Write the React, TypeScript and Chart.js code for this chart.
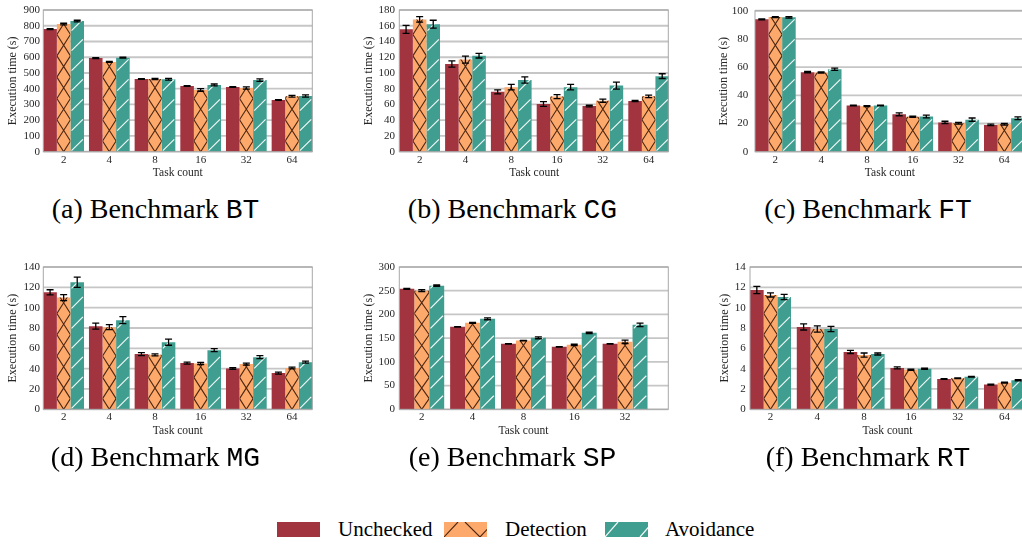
import React, { useEffect, useRef } from 'react';
import { Chart, registerables } from 'chart.js';

Chart.register(...registerables);

// ---------- data ----------
const TASKS = ['2', '4', '8', '16', '32', '64'];
const TASKS_SP = ['2', '4', '8', '16', '32'];
const SERIES = ['Unchecked', 'Detection', 'Avoidance'];
const COLORS = ['#A23440', '#FDA96C', '#3F9E8F'];

const btUnchecked = [779, 595, 462, 417, 411, 328];
const btUncheckedErr = [3, 3, 2, 2, 2, 2];
const btDetection = [811, 570, 462, 392, 405, 352];
const btDetectionErr = [5, 3, 4, 8, 7, 6];
const btAvoidance = [830, 597, 460, 424, 455, 354];
const btAvoidanceErr = [5, 3, 6, 6, 8, 7];
const btTicks = [0, 100, 200, 300, 400, 500, 600, 700, 800, 900];

const cgUnchecked = [155.4, 111.4, 76, 60.6, 58, 64.4];
const cgUncheckedErr = [5, 4, 2.5, 3, 1, 0.7];
const cgDetection = [168, 117, 82, 70, 64.8, 70.3];
const cgDetectionErr = [3.5, 4.5, 3.5, 2.5, 2, 1.5];
const cgAvoidance = [162, 122, 91, 82, 84, 96];
const cgAvoidanceErr = [5, 3, 4, 3.5, 4.5, 3];
const cgTicks = [0, 20, 40, 60, 80, 100, 120, 140, 160, 180];

const ftUnchecked = [93.9, 56.4, 32.8, 26.5, 20.8, 19.0];
const ftUncheckedErr = [0.4, 0.5, 0.3, 1, 0.8, 0.5];
const ftDetection = [95.5, 56.2, 32.3, 24.8, 20.1, 19.4];
const ftDetectionErr = [0.3, 0.5, 0.3, 0.5, 0.6, 0.6];
const ftAvoidance = [95.3, 58.5, 32.8, 25, 22.7, 23.7];
const ftAvoidanceErr = [0.5, 0.8, 0.3, 1, 1.2, 1];
const ftTicks = [0, 20, 40, 60, 80, 100];

const mgUnchecked = [115.1, 81.8, 54.3, 45.5, 40.2, 35.6];
const mgUncheckedErr = [2.5, 3, 1.5, 1, 0.8, 1];
const mgDetection = [109.9, 80.8, 53.6, 45.1, 44.5, 40.6];
const mgDetectionErr = [3, 2.5, 1, 1, 1, 0.8];
const mgAvoidance = [125, 87.7, 66, 58.2, 51.3, 46.4];
const mgAvoidanceErr = [5, 3.5, 3, 1.5, 1.5, 1];
const mgTicks = [0, 20, 40, 60, 80, 100, 120, 140];

const spUnchecked = [254, 174, 138, 131.7, 138];
const spUncheckedErr = [1, 0.5, 0.5, 0.5, 0.5];
const spDetection = [250, 182.4, 145, 136, 142.2];
const spDetectionErr = [2, 1, 0.5, 1.5, 3.5];
const spAvoidance = [260.5, 190.8, 150.7, 161.3, 178];
const spAvoidanceErr = [1.5, 2, 2, 1.5, 3.5];
const spTicks = [0, 50, 100, 150, 200, 250, 300];

const rtUnchecked = [11.74, 8.1, 5.64, 4.07, 2.98, 2.43];
const rtUncheckedErr = [0.35, 0.3, 0.15, 0.1, 0.04, 0.04];
const rtDetection = [11.25, 7.9, 5.34, 3.9, 3.05, 2.62];
const rtDetectionErr = [0.2, 0.3, 0.2, 0.06, 0.04, 0.04];
const rtAvoidance = [11.05, 7.9, 5.44, 4.0, 3.2, 2.85];
const rtAvoidanceErr = [0.25, 0.25, 0.1, 0.06, 0.04, 0.06];
const rtTicks = [0, 2, 4, 6, 8, 10, 12, 14];

// ---------- styling / layout ----------
const SERIF = "'Liberation Serif', 'Times New Roman', serif";
const MONO = "'Liberation Mono', 'DejaVu Sans Mono', monospace";
const AXIS_FONT = 11;
const YTITLE_FONT = 12;
const XTITLE_FONT = 11.5;
const CROSS_PERIOD = 21.3;
const HATCH_PERIOD = 20;
const TEXT_GRAY = '#262626';

type Box = { left: number; right: number; top: number; bottom: number };
type PanelDef = {
  caption: string;
  code: string;
  labels: string[];
  values: number[][];
  errors: number[][];
  ticks: number[];
  box: Box;
  spacing: number;
  group: number;
  titleX: number;
  tickEnd: number;
  captionX: number;
  captionTop: number;
};

const TOP_ROW: Box = { left: 0, right: 0, top: 10, bottom: 151.7 };
const BOT_ROW: Box = { left: 0, right: 0, top: 267, bottom: 409.3 };
const CAP_TOP_1 = 195;
const CAP_TOP_2 = 443;

const PANELS: PanelDef[] = [
  {
    caption: '(a) Benchmark ', code: 'BT', labels: TASKS,
    values: [btUnchecked, btDetection, btAvoidance],
    errors: [btUncheckedErr, btDetectionErr, btAvoidanceErr], ticks: btTicks,
    box: { ...TOP_ROW, left: 43.3, right: 312.3 }, spacing: 45.67, group: 40.7,
    titleX: 12.8, tickEnd: 40, captionX: 155.5, captionTop: CAP_TOP_1,
  },
  {
    caption: '(b) Benchmark ', code: 'CG', labels: TASKS,
    values: [cgUnchecked, cgDetection, cgAvoidance],
    errors: [cgUncheckedErr, cgDetectionErr, cgAvoidanceErr], ticks: cgTicks,
    box: { ...TOP_ROW, left: 399.3, right: 668.3 }, spacing: 45.8, group: 40.7,
    titleX: 368.7, tickEnd: 395, captionX: 512.5, captionTop: CAP_TOP_1,
  },
  {
    caption: '(c) Benchmark ', code: 'FT', labels: TASKS,
    values: [ftUnchecked, ftDetection, ftAvoidance],
    errors: [ftUncheckedErr, ftDetectionErr, ftAvoidanceErr], ticks: ftTicks,
    box: { ...TOP_ROW, top: 9.5, left: 755, right: 1024 }, spacing: 45.8, group: 40.7,
    titleX: 723.7, tickEnd: 748.3, captionX: 868, captionTop: CAP_TOP_1,
  },
  {
    caption: '(d) Benchmark ', code: 'MG', labels: TASKS,
    values: [mgUnchecked, mgDetection, mgAvoidance],
    errors: [mgUncheckedErr, mgDetectionErr, mgAvoidanceErr], ticks: mgTicks,
    box: { ...BOT_ROW, left: 43.3, right: 312.3 }, spacing: 45.67, group: 40.7,
    titleX: 12.8, tickEnd: 40, captionX: 155.5, captionTop: CAP_TOP_2,
  },
  {
    caption: '(e) Benchmark ', code: 'SP', labels: TASKS_SP,
    values: [spUnchecked, spDetection, spAvoidance],
    errors: [spUncheckedErr, spDetectionErr, spAvoidanceErr], ticks: spTicks,
    box: { ...BOT_ROW, left: 399.3, right: 668.3 }, spacing: 50.83, group: 44.9,
    titleX: 368.7, tickEnd: 395, captionX: 512.5, captionTop: CAP_TOP_2,
  },
  {
    caption: '(f) Benchmark ', code: 'RT', labels: TASKS,
    values: [rtUnchecked, rtDetection, rtAvoidance],
    errors: [rtUncheckedErr, rtDetectionErr, rtAvoidanceErr], ticks: rtTicks,
    box: { ...BOT_ROW, left: 750, right: 1025 }, spacing: 46.8, group: 41,
    titleX: 725.3, tickEnd: 745.7, captionX: 868, captionTop: CAP_TOP_2,
  },
];

function geom(p: PanelDef) {
  const n = p.labels.length;
  const extend = (p.spacing - p.group) / 2;
  const areaLeft = p.box.left - extend;
  const cLeft = Math.round(p.titleX - 8);
  const cTop = Math.round(p.box.top - 10);
  const axisW = areaLeft - cLeft;
  const areaW = n * p.spacing;
  const boxW = p.box.right - p.box.left;
  const needRight = Math.max(areaW, extend + boxW) + 4;
  const cWidth = Math.ceil(axisW + needRight);
  const rightPad = cWidth - axisW - areaW;
  const topPad = p.box.top - cTop;
  const cHeight = Math.ceil(p.box.bottom - cTop + 34);
  const xAxisH = cHeight - (p.box.bottom - cTop);
  const yTitlePad = p.titleX - cLeft - (YTITLE_FONT * 1.2) / 2;
  const yTickPad = areaLeft - p.tickEnd;
  const xTitleOffset = cHeight - (p.box.bottom + 21.7 - cTop);
  const xTitlePad = xTitleOffset - (XTITLE_FONT * 1.2) / 2;
  return { n, extend, cLeft, cTop, axisW, cWidth, rightPad, topPad, cHeight, xAxisH, boxW, yTitlePad, yTickPad, xTitlePad };
}

function drawCross(ctx: CanvasRenderingContext2D, l: number, t: number, r: number, b: number) {
  if (b - t < 0.5) return;
  ctx.save();
  ctx.beginPath();
  ctx.rect(l, t, r - l, b - t);
  ctx.clip();
  ctx.strokeStyle = 'rgba(66,32,12,0.95)';
  ctx.lineWidth = 1.1;
  ctx.beginPath();
  const P = CROSS_PERIOD;
  for (let yv = b + P / 2; yv > t - P; yv -= P) {
    ctx.moveTo(l, yv);
    ctx.lineTo(r, yv - P);
    ctx.moveTo(l, yv);
    ctx.lineTo(r, yv + P);
  }
  ctx.stroke();
  ctx.restore();
}

function drawHatch(ctx: CanvasRenderingContext2D, l: number, t: number, r: number, b: number) {
  if (b - t < 0.5) return;
  const w = r - l;
  const a = w * 0.08;
  ctx.save();
  ctx.beginPath();
  ctx.rect(l, t, w, b - t);
  ctx.clip();
  ctx.strokeStyle = 'rgba(255,255,255,0.92)';
  ctx.lineWidth = 1.2;
  ctx.beginPath();
  for (let yv = b - 1; yv > t - w; yv -= HATCH_PERIOD) {
    ctx.moveTo(l + a, yv);
    ctx.lineTo(r - a, yv - (w - 2 * a));
  }
  ctx.stroke();
  ctx.restore();
}

function makeDecor(p: PanelDef, g: ReturnType<typeof geom>) {
  return {
    id: 'decor',
    beforeDatasetsDraw(chart: any) {
      const { ctx, chartArea } = chart;
      const y = chart.scales.y;
      const bl = chartArea.left + g.extend;
      const br = bl + g.boxW;
      ctx.save();
      ctx.strokeStyle = '#c6c6c6';
      ctx.lineWidth = 1.8;
      for (const v of p.ticks) {
        const py = y.getPixelForValue(v);
        ctx.beginPath();
        ctx.moveTo(bl, py);
        ctx.lineTo(br, py);
        ctx.stroke();
      }
      ctx.restore();
    },
    afterDatasetsDraw(chart: any) {
      const { ctx, chartArea } = chart;
      const y = chart.scales.y;
      chart.data.datasets.forEach((ds: any, di: number) => {
        const meta = chart.getDatasetMeta(di);
        meta.data.forEach((el: any) => {
          const w = el.width;
          const l = el.x - w / 2;
          const r = el.x + w / 2;
          const t = Math.min(el.y, el.base);
          const b = Math.max(el.y, el.base);
          if (di === 1) drawCross(ctx, l, t, r, b);
          if (di === 2) drawHatch(ctx, l, t, r, b);
        });
      });
      ctx.save();
      ctx.strokeStyle = '#000';
      ctx.lineWidth = 1.3;
      chart.data.datasets.forEach((ds: any, di: number) => {
        const meta = chart.getDatasetMeta(di);
        meta.data.forEach((el: any, i: number) => {
          const v = ds.data[i];
          const e = ds.errors[i];
          const yt = y.getPixelForValue(v + e);
          const yb = y.getPixelForValue(v - e);
          ctx.beginPath();
          ctx.moveTo(el.x, yt);
          ctx.lineTo(el.x, yb);
          ctx.moveTo(el.x - 3.5, yt);
          ctx.lineTo(el.x + 3.5, yt);
          ctx.moveTo(el.x - 3.5, yb);
          ctx.lineTo(el.x + 3.5, yb);
          ctx.stroke();
        });
      });
      ctx.restore();
      const bl = chartArea.left + g.extend;
      ctx.save();
      ctx.strokeStyle = '#a8a8a8';
      ctx.lineWidth = 1;
      ctx.strokeRect(bl, chartArea.top, g.boxW, chartArea.bottom - chartArea.top);
      ctx.restore();
    },
  };
}

function Panel({ p }: { p: PanelDef }) {
  const ref = useRef<HTMLCanvasElement>(null);
  const g = geom(p);
  useEffect(() => {
    if (!ref.current) return;
    const cp = p.group / p.spacing;
    const font = { family: SERIF, size: AXIS_FONT };
    const chart = new Chart(ref.current, {
      type: 'bar',
      data: {
        labels: p.labels,
        datasets: p.values.map((vals, i) => ({
          label: SERIES[i],
          data: vals,
          errors: p.errors[i],
          backgroundColor: COLORS[i],
          borderWidth: 0,
          categoryPercentage: cp,
          barPercentage: 1,
        })) as any,
      },
      options: {
        animation: false,
        responsive: false,
        devicePixelRatio: 1,
        events: [],
        layout: { padding: { left: 0, top: g.topPad, right: g.rightPad, bottom: 0 } },
        plugins: { legend: { display: false }, tooltip: { enabled: false } },
        scales: {
          x: {
            type: 'category',
            offset: true,
            grid: { display: false, drawTicks: false },
            border: { display: false },
            ticks: { font, color: TEXT_GRAY, padding: 1.4, maxRotation: 0, autoSkip: false },
            title: {
              display: true, text: 'Task count', font: { family: SERIF, size: XTITLE_FONT }, color: TEXT_GRAY,
              padding: { top: 0, bottom: g.xTitlePad },
            },
            afterFit: (s: any) => { s.height = g.xAxisH; },
          },
          y: {
            type: 'linear',
            min: p.ticks[0],
            max: p.ticks[p.ticks.length - 1],
            grid: { display: false, drawTicks: false },
            border: { display: false },
            afterBuildTicks: (s: any) => { s.ticks = p.ticks.map((v) => ({ value: v })); },
            ticks: { font, color: TEXT_GRAY, padding: g.yTickPad, autoSkip: false, callback: (v: any) => String(v) },
            title: {
              display: true, text: 'Execution time (s)', font: { family: SERIF, size: YTITLE_FONT }, color: TEXT_GRAY,
              padding: { top: g.yTitlePad, bottom: 0 },
            },
            afterFit: (s: any) => { s.width = g.axisW; },
          },
        },
      } as any,
      plugins: [makeDecor(p, g) as any],
    });
    return () => chart.destroy();
  }, []);
  return (
    <canvas
      ref={ref}
      width={g.cWidth}
      height={g.cHeight}
      style={{ position: 'absolute', left: g.cLeft, top: g.cTop, width: g.cWidth, height: g.cHeight }}
    />
  );
}

function Caption({ p }: { p: PanelDef }) {
  return (
    <div
      style={{
        position: 'absolute', left: p.captionX, top: p.captionTop, transform: 'translateX(-50%)',
        whiteSpace: 'nowrap', fontFamily: SERIF, fontSize: 28, lineHeight: '28px', color: '#000',
      }}
    >
      {p.caption}
      <span style={{ fontFamily: MONO, fontSize: 28, lineHeight: '28px' }}>{p.code}</span>
    </div>
  );
}

const LEGEND_SWATCH_X = [277, 444, 605];
const LEGEND_TEXT_X = [338, 505, 665];

function Swatch({ kind, left }: { kind: number; left: number }) {
  const ref = useRef<HTMLCanvasElement>(null);
  useEffect(() => {
    const c = ref.current;
    if (!c) return;
    const ctx = c.getContext('2d')!;
    const W = 43, H = 15;
    ctx.clearRect(0, 0, W, H);
    ctx.fillStyle = COLORS[kind];
    ctx.fillRect(0, 0, W, H);
    ctx.save();
    ctx.beginPath();
    ctx.rect(0, 0, W, H);
    ctx.clip();
    if (kind === 1) {
      ctx.strokeStyle = 'rgba(66,32,12,0.95)';
      ctx.lineWidth = 1.1;
      ctx.beginPath();
      for (let k = -2; k <= 2; k++) {
        ctx.moveTo(k * 36, H);
        ctx.lineTo(k * 36 + 14, 0);
        ctx.moveTo(21 + k * 36, 0);
        ctx.lineTo(21 + k * 36 + 15, H);
      }
      ctx.stroke();
    } else if (kind === 2) {
      ctx.strokeStyle = 'rgba(255,255,255,0.92)';
      ctx.lineWidth = 1.2;
      ctx.beginPath();
      for (let k = -1; k <= 2; k++) {
        ctx.moveTo(k * 35, H);
        ctx.lineTo(k * 35 + 13, 0);
      }
      ctx.stroke();
    }
    ctx.restore();
  }, []);
  return <canvas ref={ref} width={43} height={15} style={{ position: 'absolute', left, top: 522, width: 43, height: 15 }} />;
}

export default function App() {
  return (
    <div style={{ position: 'absolute', left: 0, top: 0, width: 1022, height: 544, overflow: 'hidden', background: '#fff' }}>
      {PANELS.map((p, i) => (
        <Panel key={'p' + i} p={p} />
      ))}
      {PANELS.map((p, i) => (
        <Caption key={'c' + i} p={p} />
      ))}
      {SERIES.map((s, i) => (
        <React.Fragment key={s}>
          <Swatch kind={i} left={LEGEND_SWATCH_X[i]} />
          <div
            style={{
              position: 'absolute', left: LEGEND_TEXT_X[i], top: 519.4, fontFamily: SERIF,
              fontSize: 21, lineHeight: '21px', whiteSpace: 'nowrap', color: '#000',
            }}
          >
            {s}
          </div>
        </React.Fragment>
      ))}
    </div>
  );
}
